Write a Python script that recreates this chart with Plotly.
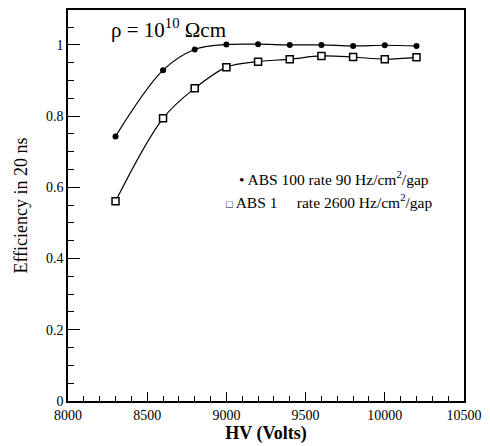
import plotly.graph_objects as go

# HV points (Volts)
hv = [8300, 8600, 8800, 9000, 9200, 9400, 9600, 9800, 10000, 10200]
# ABS 100, rate 90 Hz/cm2/gap
eff_abs100 = [0.743, 0.929, 0.987, 1.001, 1.002, 1.0, 1.0, 0.997, 0.999, 0.997]
# ABS 1, rate 2600 Hz/cm2/gap
eff_abs1 = [0.561, 0.794, 0.878, 0.937, 0.953, 0.960, 0.969, 0.966, 0.960, 0.965]

x_ticks = [8000, 8500, 9000, 9500, 10000, 10500]
x_tick_labels = ["8000", "8500", "9000", "9500", "10000", "10500"]
y_ticks = [0, 0.2, 0.4, 0.6, 0.8, 1]
y_tick_labels = ["0", "0.2", "0.4", "0.6", "0.8", "1"]

font = "Liberation Serif, Times New Roman, serif"

fig = go.Figure()
fig.add_trace(go.Scatter(
    x=hv, y=eff_abs100, mode="lines+markers",
    line=dict(color="black", width=1.2, shape="spline"),
    marker=dict(symbol="circle", size=6, color="black"),
    showlegend=False,
))
fig.add_trace(go.Scatter(
    x=hv, y=eff_abs1, mode="lines+markers",
    line=dict(color="black", width=1.2, shape="spline"),
    marker=dict(symbol="square", size=7, color="white",
                line=dict(color="black", width=1.5)),
    showlegend=False,
))

fig.add_annotation(x=0.104, y=0.952, xref="paper", yref="paper",
                   text="ρ = 10<sup>10</sup> Ωcm", showarrow=False,
                   xanchor="left", yanchor="middle",
                   font=dict(family=font, size=21, color="black"))
fig.add_annotation(x=0.427, y=0.570, xref="paper", yref="paper",
                   text="• ABS 100 rate 90 Hz/cm<sup>2</sup>/gap", showarrow=False,
                   xanchor="left", yanchor="middle",
                   font=dict(family=font, size=15.5, color="black"))
fig.add_annotation(x=0.394, y=0.511, xref="paper", yref="paper",
                   text="<span style='font-size:11px'>□</span> ABS 1&nbsp;&nbsp;&nbsp;&nbsp;&nbsp;"
                        "rate 2600 Hz/cm<sup>2</sup>/gap",
                   showarrow=False, xanchor="left", yanchor="middle",
                   font=dict(family=font, size=15.5, color="black"))

axis_common = dict(
    showgrid=False, zeroline=False, showline=True, linecolor="black",
    linewidth=1.5, mirror=True, ticks="inside", tickcolor="black",
    tickfont=dict(family=font, size=14, color="black"),
)

# page body has an 8px margin, so the figure is sized to fit inside it
fig.update_layout(
    width=482, height=438,
    margin=dict(l=60, r=26, t=0, b=45),
    plot_bgcolor="white", paper_bgcolor="white",
    xaxis=dict(
        range=[8000, 10500], tickvals=x_ticks, ticktext=x_tick_labels, ticklen=9,
        minor=dict(dtick=100, ticks="inside", ticklen=5, tickcolor="black"),
        title=dict(text="<b>HV (Volts)</b>", standoff=4,
                   font=dict(family=font, size=18, color="black")),
        **axis_common,
    ),
    yaxis=dict(
        range=[0, 1.098], tickvals=y_ticks, ticktext=y_tick_labels, ticklen=12,
        minor=dict(dtick=0.05, ticks="inside", ticklen=6, tickcolor="black"),
        title=dict(text="Efficiency in 20 ns", standoff=14,
                   font=dict(family=font, size=18, color="black")),
        **axis_common,
    ),
)

fig.write_html("out.html")
